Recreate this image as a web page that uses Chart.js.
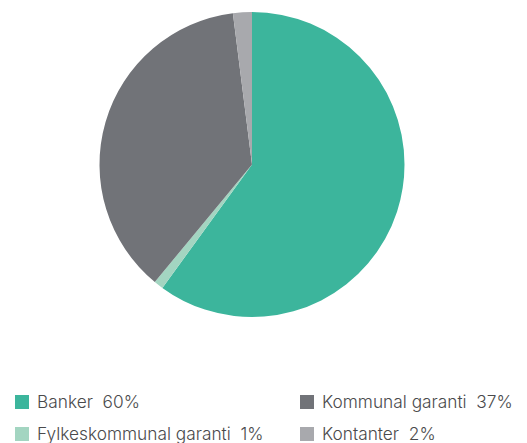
<!DOCTYPE html>
<html lang="no">
<head>
  <meta charset="UTF-8">
  <title>Pie</title>
  <script src="https://cdn.jsdelivr.net/npm/chart.js"></script>
  <style>
    body { margin: 0; background: #fff; width: 527px; height: 443px; position: relative; overflow: hidden; }
    #pie { position: absolute; left: 0; top: 0; }
    .legend-item { position: absolute; display: flex; align-items: center; font-family: Inter, "Noto Sans", sans-serif; font-size: 17.3px; font-weight: 300; color: #4a4a4c; white-space: pre; }
    .legend-item .box { width: 14px; height: 14px; margin-right: 8px; }
  </style>
</head>
<body>
<canvas id="pie" width="527" height="329"></canvas>
<div id="legend"></div>

<script>
// data, in drawing order (clockwise from the top)
const labels = ['Banker', 'Fylkeskommunal garanti', 'Kommunal garanti', 'Kontanter'];
const shares = [60, 1, 37, 2];
const colors = ['#3cb59c', '#a3d5c1', '#717378', '#a8a9ad'];

// legend layout: two columns, row-wise
const legendOrder = [0, 2, 1, 3];
const legendSpots = [[15, 391], [300, 391], [15, 423], [300, 423]];

new Chart(document.getElementById('pie'), {
  type: 'pie',
  data: {
    labels: labels,
    datasets: [{
      data: shares,
      backgroundColor: colors,
      borderWidth: 0
    }]
  },
  options: {
    responsive: false,
    animation: false,
    layout: { padding: { top: 12, bottom: 12, left: 0, right: 23 } },
    plugins: {
      legend: { display: false },
      tooltip: { enabled: false }
    }
  }
});

const legend = document.getElementById('legend');
legendOrder.forEach((idx, i) => {
  const item = document.createElement('div');
  item.className = 'legend-item';
  item.style.left = legendSpots[i][0] + 'px';
  item.style.top = legendSpots[i][1] + 'px';
  const box = document.createElement('span');
  box.className = 'box';
  box.style.background = colors[idx];
  const txt = document.createElement('span');
  txt.textContent = labels[idx] + '  ' + shares[idx] + '%';
  item.appendChild(box);
  item.appendChild(txt);
  legend.appendChild(item);
});
</script>
</body>
</html>
